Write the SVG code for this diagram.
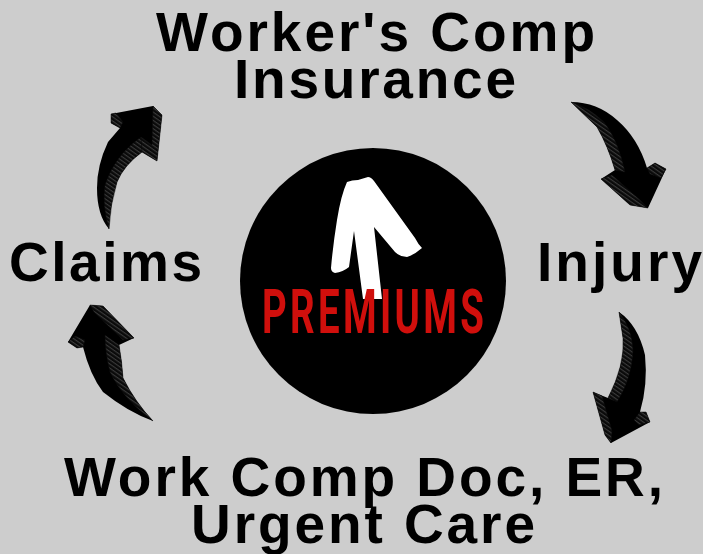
<svg xmlns="http://www.w3.org/2000/svg" width="703" height="554" viewBox="0 0 703 554">
<style>
.t{font-family:"Liberation Sans",Arial,sans-serif;font-weight:700;font-size:55px;fill:#000}
.a{fill:#000}
.s{fill:url(#h);stroke:#0a0a0a;stroke-width:.5}
</style>
<defs>
<pattern id="h" width="3.4" height="3.4" patternUnits="userSpaceOnUse" patternTransform="rotate(35)">
<rect width="3.4" height="3.4" fill="#0a0a0a"/><rect width="3.4" height="1.1" fill="#3a3a3a"/>
</pattern>
</defs>
<rect width="703" height="554" fill="#cdcdcd"/>
<g id="connectors">
<g id="arrow-top-right">
<path class="a" d="M571 102Q597 102 617 120Q638 138 647 168L655 163L666 169L648 208L630 205L601 179L615 170Q608 146 597 127Z"/>
<path class="s" d="M571 102Q588 107 604 122Q618 140 625 172L615 170Q608 146 597 127Z"/>
<path class="s" d="M601 179L630 205L648 208L640 200L612 175Z"/>
<path class="s" d="M647 168L655 163L666 169L661 178L650 174Z"/>
</g>
<g id="arrow-right">
<path class="a" d="M619 312Q638 325 645 355Q648 385 640 412L646 412L650 422L611 443L605 435L593 392L608 398Q625 365 623 338Z"/>
<path class="s" d="M619 312Q632 328 633 350Q632 378 617 402L608 398Q625 365 623 338Z"/>
<path class="s" d="M593 392L605 435L611 443L612 431L602 396Z"/>
<path class="s" d="M640 412L646 412L650 422L639 425L634 420Z"/>
</g>
<g id="arrow-left">
<path class="a" d="M153 421Q128 412 103 392Q90 375 83 347L77 348L68 342L90 305L103 306L134 338L119 345Q122 362 123 378Q135 402 153 421Z"/>
<path class="s" d="M153 421Q122 398 110 372Q105 352 105 335L119 345Q122 362 123 378Q135 402 153 421Z"/>
<path class="s" d="M90 305L103 306L134 338L123 340L94 312Z"/>
<path class="s" d="M68 342L77 348L83 347L85 340L75 336Z"/>
</g>
<g id="arrow-top-left">
<path class="a" d="M109 229Q97 215 97 188Q97 165 108 142L120 128L111 123L111 114L153 106L162 115L157 161L142 152Q124 165 117 182Q110 205 109 229Z"/>
<path class="s" d="M109 229Q110 205 117 182Q124 165 142 152L141 137Q115 155 105 185Q102 205 109 229Z"/>
<path class="s" d="M153 106L162 115L157 161L142 152L141 137L152 145Z"/>
<path class="s" d="M111 114L111 123L120 128L123 122L116 113Z"/>
</g>
</g>
<g id="node-premiums">
<circle cx="373" cy="281" r="133" fill="#000"/>
<path fill="#fff" d="M347 182Q352 180 358 180L368 177Q371 177 374 181L415 238Q418 244 422 248Q414 255 407 257Q400 257 395 252L374 227L382 299H363L354 231L349 267Q343 272 335 273Q331 272 331 268Q333 245 337 220Q341 195 347 182Z"/>
<text transform="translate(262 333) scale(.62 1)" font-family="Roboto,'Liberation Sans',sans-serif" font-size="62" font-weight="700" fill="#d00f0c" textLength="358" lengthAdjust="spacing">PREMIUMS</text>
</g>
<g id="node-insurance">
<text class="t" x="156" y="51" textLength="439">Worker's Comp</text>
<text class="t" x="234" y="98" textLength="282">Insurance</text>
</g>
<g id="node-injury"><text class="t" x="537" y="281" textLength="165">Injury</text></g>
<g id="node-claims"><text class="t" x="9" y="281" textLength="193">Claims</text></g>
<g id="node-doc">
<text class="t" x="64" y="496" textLength="599">Work Comp Doc, ER,</text>
<text class="t" x="191" y="543" textLength="344">Urgent Care</text>
</g>
</svg>
